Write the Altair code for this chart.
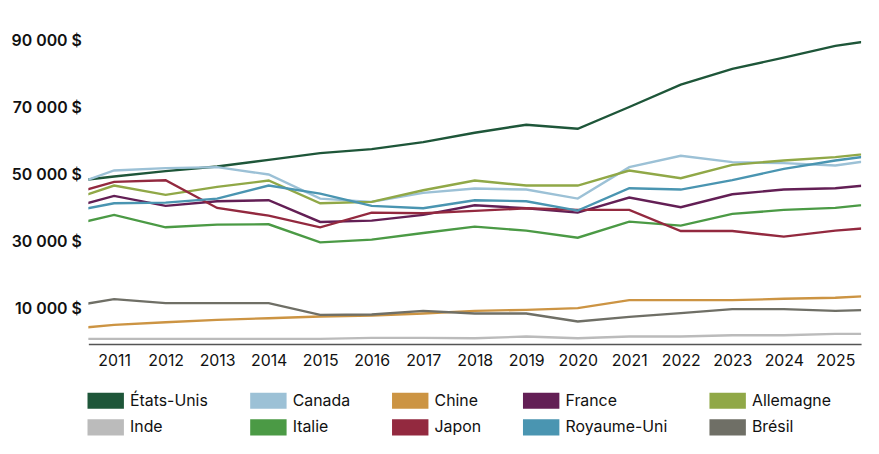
import altair as alt
import pandas as pd

years = list(range(2010, 2027))
tick_years = list(range(2011, 2026))
y_ticks = [10000, 30000, 50000, 70000, 90000]

countries = ["États-Unis", "Canada", "Chine", "France", "Allemagne",
             "Inde", "Italie", "Japon", "Royaume-Uni", "Brésil"]
colors = ["#1e5639", "#9cc1d6", "#cc9443", "#631f55", "#90a847",
          "#bbbbbb", "#4b9a45", "#93293f", "#4a95b1", "#6f6f66"]

# values in thousands of dollars, 2010..2026
etats_unis = [47.6, 49.4, 51.0, 52.4, 54.4, 56.4, 57.6, 59.7, 62.5, 64.9, 63.7, 70.2, 76.9, 81.6, 85.0, 88.5, 90.7]
canada = [45.8, 51.2, 51.9, 52.2, 50.0, 42.8, 41.8, 44.5, 45.8, 45.5, 42.8, 52.2, 55.6, 53.7, 53.4, 52.7, 54.9]
chine = [3.6, 5.0, 5.8, 6.5, 7.0, 7.5, 7.8, 8.4, 9.2, 9.5, 10.0, 12.4, 12.4, 12.4, 12.8, 13.1, 13.9]
france = [39.4, 43.6, 40.6, 42.0, 42.3, 35.8, 36.2, 37.9, 40.8, 39.9, 38.6, 43.1, 40.2, 44.1, 45.5, 45.9, 47.3]
allemagne = [41.5, 46.7, 43.9, 46.3, 48.2, 41.4, 41.8, 45.3, 48.2, 46.7, 46.7, 51.2, 48.9, 52.9, 54.2, 55.2, 56.8]
inde = [0.8, 0.8, 0.8, 0.8, 0.8, 0.8, 1.1, 1.1, 1.0, 1.5, 1.0, 1.5, 1.5, 1.9, 1.9, 2.3, 2.3]
italie = [34.3, 37.9, 34.2, 35.0, 35.1, 29.7, 30.5, 32.5, 34.4, 33.2, 31.1, 35.9, 34.7, 38.2, 39.4, 40.0, 41.6]
japon = [43.4, 47.8, 48.3, 40.0, 37.7, 34.2, 38.6, 38.4, 39.1, 39.9, 39.4, 39.4, 33.1, 33.1, 31.4, 33.2, 34.4]
royaume_uni = [38.4, 41.4, 41.6, 42.8, 46.7, 44.3, 40.6, 39.9, 42.3, 42.0, 39.2, 45.9, 45.5, 48.3, 51.7, 54.2, 56.2]
bresil = [10.1, 12.7, 11.5, 11.5, 11.5, 8.0, 8.1, 9.2, 8.4, 8.4, 6.0, 7.4, 8.5, 9.7, 9.7, 9.2, 9.6]

series = [etats_unis, canada, chine, france, allemagne,
          inde, italie, japon, royaume_uni, bresil]

rows = []
for name, vals in zip(countries, series):
    for yr, v in zip(years, vals):
        rows.append({"year": yr, "country": name, "value": v * 1000})
df = pd.DataFrame(rows)

FONT = "Inter"
RECT = "M-1,-0.44H1V0.44H-1Z"

color_scale = alt.Scale(domain=countries, range=colors)

x = alt.X("year:Q",
          scale=alt.Scale(domain=[2010.5, 2025.5], nice=False, zero=False),
          axis=alt.Axis(values=tick_years, format="d", title=None, ticks=False,
                        grid=False, domainColor="#555555", domainWidth=1.5,
                        labelFontSize=16, labelColor="#111111", labelFont=FONT,
                        labelPadding=9, offset=2.5, labelFlush=False))
y = alt.Y("value:Q",
          scale=alt.Scale(domain=[0, 95000], nice=False),
          axis=alt.Axis(values=y_ticks,
                        labelExpr="replace(format(datum.value, ','), ',', ' ') + ' $'",
                        title=None, ticks=False, grid=False, domain=False,
                        labelFontSize=16, labelFontWeight=600, labelFont=FONT,
                        labelColor="#111111", labelPadding=7))

lines = alt.Chart(df).mark_line(clip=True, strokeWidth=2.4).encode(
    x=x, y=y,
    color=alt.Color("country:N", scale=color_scale, legend=None),
)

legend_layer = alt.Chart(df).transform_filter("datum.year < 0").mark_point(
    shape=RECT, filled=True, opacity=1, size=1347
).encode(
    x=x, y=y,
    color=alt.Color("country:N", scale=color_scale,
                    legend=alt.Legend(title=None, orient="none", legendX=-1, legendY=361,
                                      direction="horizontal", columns=5,
                                      columnPadding=42, rowPadding=-4.5,
                                      symbolType=RECT, symbolSize=1347,
                                      symbolStrokeWidth=0, symbolOffset=0,
                                      labelOffset=6, labelFontSize=16, labelFont=FONT,
                                      labelColor="#111111", padding=0)),
)

chart = alt.layer(lines, legend_layer).resolve_legend(color="independent").properties(
    width=779, height=320,
    autosize=alt.AutoSizeParams(type="none"),
    padding={"left": 81, "top": 14.5, "right": 10, "bottom": 105},
).configure(font=FONT).configure_view(stroke=None)

chart.save("out.html", embed_options={"renderer": "svg", "actions": False})
